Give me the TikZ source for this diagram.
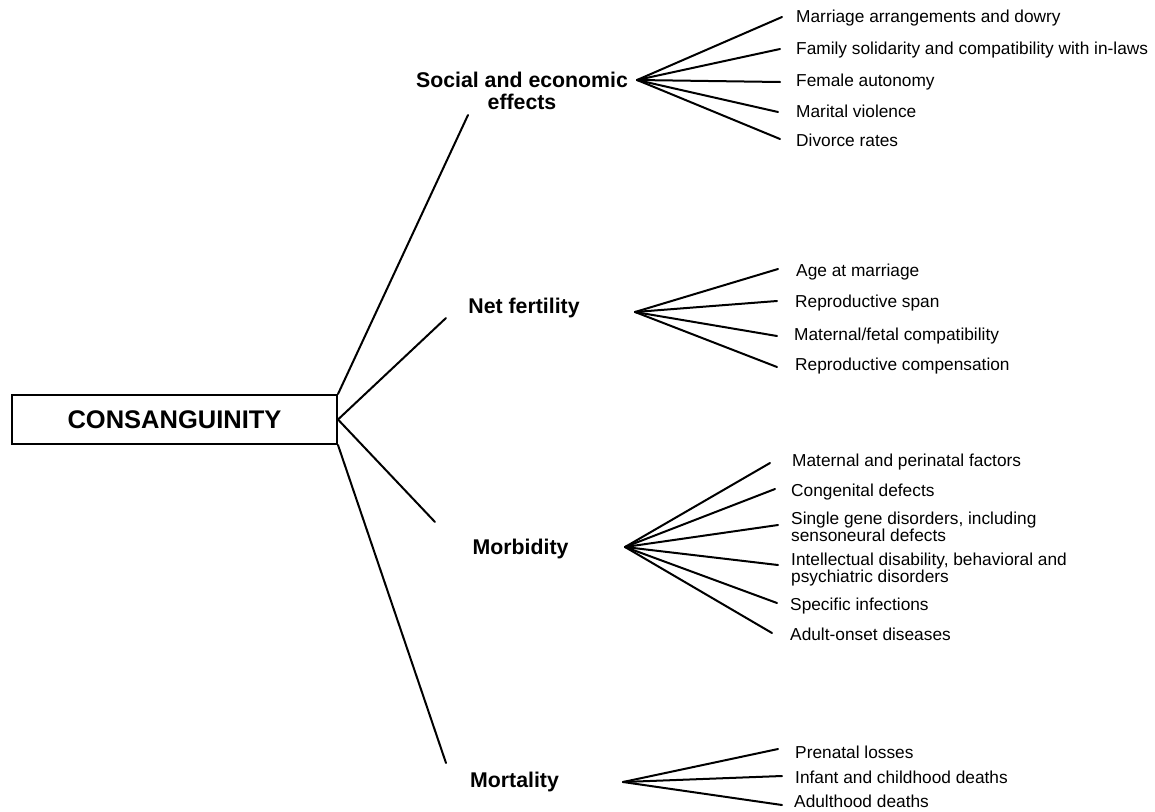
\documentclass[tikz,border=0pt]{standalone}
\usepackage{fontspec}
\setmainfont{Liberation Sans}
\begin{document}
\begin{tikzpicture}[x=1pt,y=-1pt,
  conn/.style={line width=2pt,line cap=round},
  leaf/.style={anchor=west,inner sep=0pt,font=\fontsize{17.3}{17}\selectfont,align=left},
  cat/.style={inner sep=0pt,font=\fontsize{21.3}{22}\selectfont\bfseries,align=center},
  mainbox/.style={draw,line width=2pt,minimum width=325pt,minimum height=49pt,inner sep=0pt,font=\fontsize{25.5}{28}\selectfont\bfseries}]
\useasboundingbox (0,0) rectangle (1155,811);
\fill[white] (0,0) rectangle (1155,811);

\node[mainbox] (cons) at (174.5,419.5) {CONSANGUINITY};

% category labels
\node[cat] (soc) at (522,91) {Social and economic\\effects};
\node[cat] (net) at (524,308) {Net fertility};
\node[cat] (mor) at (520.5,549) {Morbidity};
\node[cat] (mrt) at (514.5,782) {Mortality};

% connector ends from the box
\coordinate (socE) at (468,115);
\coordinate (netE) at (446,318);
\coordinate (morE) at (435,522);
\coordinate (mrtE) at (446,763);
\draw[conn] (cons.north east) -- (socE);
\draw[conn] (cons.east) -- (netE);
\draw[conn] (cons.east) -- (morE);
\draw[conn] (cons.south east) -- (mrtE);

% hubs
\coordinate (socH) at (637,80);
\coordinate (netH) at (635,312);
\coordinate (morH) at (625,547);
\coordinate (mrtH) at (623,782);

% social leaves
\node[leaf] (s1) at (796,18) {Marriage arrangements and dowry};
\node[leaf] (s2) at (796,50) {Family solidarity and compatibility with in-laws};
\node[leaf] (s3) at (796,82) {Female autonomy};
\node[leaf] (s4) at (796,111) {Marital violence};
\node[leaf] (s5) at (796,140) {Divorce rates};
\coordinate (s1e) at (782,17);
\coordinate (s2e) at (780,49);
\coordinate (s3e) at (780,82);
\coordinate (s4e) at (778,112);
\coordinate (s5e) at (780,139);
\foreach \e in {s1e,s2e,s3e,s4e,s5e} \draw[conn] (socH) -- (\e);

% net fertility leaves
\node[leaf] (n1) at (796,272) {Age at marriage};
\node[leaf] (n2) at (795,303) {Reproductive span};
\node[leaf] (n3) at (794,336) {Maternal/fetal compatibility};
\node[leaf] (n4) at (795,366) {Reproductive compensation};
\coordinate (n1e) at (778,269);
\coordinate (n2e) at (777,301);
\coordinate (n3e) at (777,336);
\coordinate (n4e) at (777,367);
\foreach \e in {n1e,n2e,n3e,n4e} \draw[conn] (netH) -- (\e);

% morbidity leaves
\node[leaf] (m1) at (792,462) {Maternal and perinatal factors};
\node[leaf] (m2) at (791,492) {Congenital defects};
\node[leaf] (m3) at (791,527) {Single gene disorders, including\\sensoneural defects};
\node[leaf] (m4) at (791,570) {Intellectual disability, behavioral and\\psychiatric disorders};
\node[leaf] (m5) at (790,606) {Specific infections};
\node[leaf] (m6) at (790,634) {Adult-onset diseases};
\coordinate (m1e) at (770,463);
\coordinate (m2e) at (775,489);
\coordinate (m3e) at (778,525);
\coordinate (m4e) at (778,565);
\coordinate (m5e) at (777,603);
\coordinate (m6e) at (772,633);
\foreach \e in {m1e,m2e,m3e,m4e,m5e,m6e} \draw[conn] (morH) -- (\e);

% mortality leaves
\node[leaf] (d1) at (795,752) {Prenatal losses};
\node[leaf] (d2) at (795,777) {Infant and childhood deaths};
\node[leaf] (d3) at (794,801) {Adulthood deaths};
\coordinate (d1e) at (778,749);
\coordinate (d2e) at (782,776);
\coordinate (d3e) at (782,805);
\foreach \e in {d1e,d2e,d3e} \draw[conn] (mrtH) -- (\e);
\end{tikzpicture}
\end{document}
